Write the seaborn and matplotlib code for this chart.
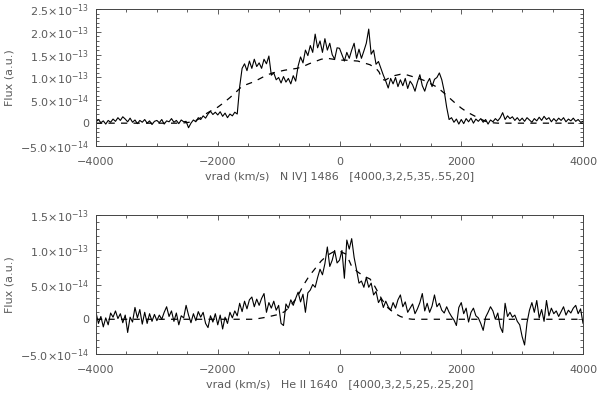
import numpy as np
import matplotlib
matplotlib.use('Agg')
import matplotlib.pyplot as plt
from matplotlib.ticker import MultipleLocator, FixedLocator, FixedFormatter
import seaborn as sns

# velocity grid of the binned spectra (km/s)
vrad = np.arange(-4000, 4001, 40)

# N IV] 1486 observed flux, in units of 1e-14
niv_flux = [
    0.3, 0.8, 0.1, 0.5, -0.2, 0.6, 0.2, 0.9, 0.4, 1.2, 0.6, 1.4, 0.9, 0.3, 1.1, 0.2, 0.7, -0.1, 0.6, 0.2, 0.8, 0.0, 0.5, -0.3, 0.4,
    0.6, 0.1, 0.8, -0.2, 0.5, 0.3, 1.0, 0.2, 0.6, -0.1, 0.7, 0.3, 0.4, -1.0, 0.0, 0.7, 0.3, 1.2, 0.8, 1.6, 1.1, 2.0, 2.6, 1.9, 2.4,
    1.8, 2.5, 1.5, 2.2, 1.2, 2.0, 1.6, 2.4, 2.0, 8.0, 12.0, 13.0, 11.5, 13.6, 12.0, 14.0, 12.4, 13.2, 12.0, 14.0, 13.0, 14.7, 10.5, 11.0, 9.5,
    10.0, 8.8, 10.2, 9.0, 9.8, 8.6, 10.4, 9.2, 12.5, 14.5, 13.2, 16.0, 14.8, 17.0, 15.5, 19.5, 16.5, 18.0, 15.5, 18.5, 16.0, 17.5, 15.0, 14.0, 16.5,
    16.4, 15.0, 13.6, 15.5, 14.2, 16.0, 17.5, 14.2, 16.2, 14.2, 15.8, 17.5, 20.6, 15.1, 16.0, 12.9, 13.5, 12.0, 10.5, 9.2, 7.7, 9.8, 8.6, 10.0, 8.0,
    9.5, 8.2, 9.8, 7.6, 9.2, 8.4, 7.0, 9.0, 10.6, 8.2, 7.0, 8.8, 9.8, 8.0, 9.6, 10.0, 11.0, 9.5, 7.0, 3.5, 0.8, 1.2, 0.2, 0.9, -0.2,
    0.8, -0.1, 1.0, 0.3, 1.1, 0.0, 0.9, 0.4, 1.0, 0.2, 0.8, -0.2, 0.7, 0.3, 1.0, 0.5, 1.2, 2.3, 0.8, 1.6, 1.0, 1.4, 0.6, 1.2, 0.5,
    1.1, 0.4, 1.2, 0.7, 0.2, 1.0, 0.5, 1.3, 0.6, 1.5, 0.8, 1.2, 0.3, 1.0, 0.4, 1.1, 0.6, 1.2, 0.3, 0.9, 0.5, 1.1, 0.4, 0.8, 0.2, 0.4,
]

# N IV] model (dashed)
niv_model_v = [-4000, -2600, -2400, -2300, -2200, -2100, -2000, -1900, -1800, -1700, -1600, -1500, -1400, -1300,
               -1200, -1100, -1000, -900, -800, -700, -600, -500, -400, -300, -200, -100, 0, 100, 200, 300,
               400, 500, 600, 650, 700, 750, 800, 900, 1000, 1100, 1200, 1300, 1400, 1500, 1600, 1700, 1800,
               1900, 2000, 2100, 2200, 2300, 2400, 2500, 2600, 4000]
niv_model_f = [0.0, 0.0, 0.3, 1.0, 2.0, 2.8, 3.5, 4.5, 5.6, 6.8, 8.1, 8.6, 9.1, 9.8,
               10.5, 11.0, 11.3, 11.6, 11.8, 12.0, 12.4, 13.0, 13.5, 14.0, 14.2, 14.0, 13.8, 13.8, 13.7, 13.6,
               13.2, 12.8, 12.0, 11.2, 9.6, 9.4, 9.8, 10.4, 10.7, 10.6, 10.2, 9.8, 9.3, 8.6, 7.9, 6.8, 5.6,
               4.4, 3.3, 2.4, 1.7, 1.0, 0.4, 0.1, 0.0, 0.0]

# He II 1640 observed flux, in units of 1e-14
heii_flux = [
    1.0, -0.6, 0.4, -1.1, 0.2, -0.8, 0.9, 0.3, 1.2, 0.1, 0.8, -0.5, 0.6, -1.9, 0.3, -0.4, 1.7, 0.2, 1.4, -0.7, 1.0, -0.6, 0.8, -0.3, 0.7,
    -0.2, 0.6, 0.0, 1.0, 1.8, 0.4, 1.2, -0.3, 0.9, -0.8, 0.5, 0.2, 2.0, 0.6, -0.5, 0.8, -0.2, 1.1, 0.3, 1.0, -0.6, -1.2, 0.5, -0.4, 0.8,
    -0.8, 0.6, -1.4, 0.3, -0.6, 1.0, 0.2, 1.2, 0.5, 2.3, 1.1, 2.6, 1.5, 2.8, 3.2, 1.8, 2.9, 2.0, 3.0, 3.7, 1.0, 2.4, 1.6, 2.6, 1.3,
    2.0, -0.6, -0.9, 2.2, 1.6, 2.8, 2.0, 3.0, 3.9, 2.5, 3.6, 1.0, 3.8, 4.2, 5.0, 4.6, 6.0, 7.2, 6.4, 8.0, 10.4, 7.6, 8.5, 9.9, 8.1,
    8.5, 9.9, 5.9, 11.4, 10.1, 11.6, 8.9, 7.1, 5.2, 5.5, 4.6, 6.0, 4.6, 5.2, 3.5, 4.0, 2.4, 3.0, 1.7, 2.6, 1.8, 1.3, 2.4, 1.6, 2.8,
    3.5, 1.8, 2.5, 1.0, 1.6, 2.2, 0.8, 1.5, 2.4, 3.7, 1.2, 2.3, 1.0, 1.9, 3.5, 1.8, 2.3, 1.3, 0.9, 1.8, 1.0, 0.4, -0.1, -0.9, 1.7,
    2.4, 0.8, 1.6, -0.4, 1.0, 1.6, 0.5, 0.2, -0.6, -1.6, 0.3, 1.0, 1.8, 1.2, 0.0, 0.9, -1.1, -1.9, 2.3, 0.4, 1.0, 0.3, 0.6, -0.3, -0.8,
    -2.5, -3.7, -0.5, 1.3, 2.4, 1.0, 2.7, 0.2, 1.4, -0.3, 2.7, 0.5, 1.6, 0.8, 1.2, 0.4, 1.1, 1.8, 0.6, 1.3, 0.9, 1.6, 2.0, 0.8, 1.5, -0.6,
]

# He II model (dashed)
heii_model_v = [-4000, -1400, -1200, -1000, -900, -800, -700, -600, -500, -400, -300, -200, -100, 0, 100,
                150, 200, 300, 400, 500, 550, 600, 650, 700, 800, 900, 1000, 1100, 1200, 4000]
heii_model_f = [0.0, 0.0, 0.3, 0.7, 1.1, 2.0, 3.1, 4.8, 6.2, 7.3, 8.4, 9.2, 9.7, 9.8, 9.4,
                8.6, 7.6, 6.8, 6.2, 5.8, 5.2, 4.4, 3.6, 2.8, 1.6, 0.9, 0.4, 0.1, 0.0, 0.0]

xlabels = ['vrad (km/s)   N IV] 1486   [4000,3,2,5,35,.55,20]',
           'vrad (km/s)   He II 1640   [4000,3,2,5,25,.25,20]']
top_yticks = [-5e-14, 0, 5e-14, 1e-13, 1.5e-13, 2e-13, 2.5e-13]
top_ylabels = [r'$-5.0{\times}10^{-14}$', '0', r'$5.0{\times}10^{-14}$', r'$1.0{\times}10^{-13}$',
               r'$1.5{\times}10^{-13}$', r'$2.0{\times}10^{-13}$', r'$2.5{\times}10^{-13}$']
bot_yticks = [-5e-14, 0, 5e-14, 1e-13, 1.5e-13]
bot_ylabels = top_ylabels[:5]

sns.set_style('ticks')
plt.rcParams['font.family'] = ['DejaVu Sans']
plt.rcParams['mathtext.fontset'] = 'dejavusans'

txt = '#5a5a5a'
fig = plt.figure(figsize=(6, 3.93), dpi=100)
ax1 = fig.add_axes([0.16, 0.6285, 0.8117, 0.3486])
ax2 = fig.add_axes([0.16, 0.0992, 0.8117, 0.3537])

panels = [
    (ax1, niv_flux, niv_model_v, niv_model_f, top_yticks, top_ylabels, (-5e-14, 2.5e-13), xlabels[0]),
    (ax2, heii_flux, heii_model_v, heii_model_f, bot_yticks, bot_ylabels, (-5e-14, 1.5e-13), xlabels[1]),
]
for ax, flux, mv, mf, yt, yl, ylim, xl in panels:
    sns.lineplot(x=np.array(mv), y=np.array(mf) * 1e-14, ax=ax, color='black', lw=0.9,
                 dashes=False, linestyle=(0, (5, 5)), estimator=None, sort=False)
    sns.lineplot(x=vrad, y=np.array(flux) * 1e-14, ax=ax, color='black', lw=0.8,
                 estimator=None, sort=False)
    ax.set_xlim(-4000, 4000)
    ax.set_ylim(*ylim)
    ax.xaxis.set_major_locator(FixedLocator([-4000, -2000, 0, 2000, 4000]))
    ax.xaxis.set_major_formatter(FixedFormatter(['\u22124000', '\u22122000', '0', '2000', '4000']))
    ax.xaxis.set_minor_locator(MultipleLocator(500))
    ax.yaxis.set_major_locator(FixedLocator(yt))
    ax.yaxis.set_major_formatter(FixedFormatter(yl))
    ax.yaxis.set_minor_locator(MultipleLocator(1e-14))
    ax.tick_params(which='both', direction='in', top=True, right=True, color='#444444', width=0.6)
    ax.tick_params(which='major', length=3.6, labelsize=8, labelcolor=txt)
    ax.tick_params(which='minor', length=2)
    ax.tick_params(axis='x', pad=8)
    ax.tick_params(axis='y', pad=5)
    for s in ax.spines.values():
        s.set_linewidth(0.7)
        s.set_color('#444444')
    ax.set_xlabel(xl, fontsize=8, color=txt, labelpad=3)
    ax.set_ylabel('Flux (a.u.)', fontsize=8, color=txt)
    ax.yaxis.set_label_coords(-0.168, 0.5)

fig.savefig('out.png', dpi=100)
